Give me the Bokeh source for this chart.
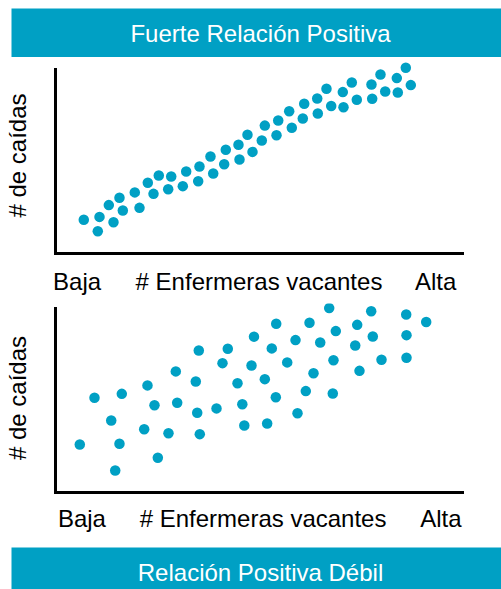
from bokeh.plotting import figure
from bokeh.layouts import column
from bokeh.models import Range1d, FixedTicker, Label
from bokeh.embed import file_html
from bokeh.resources import INLINE

TEAL = "#00A0C4"
FONT = "Liberation Sans"

title_top = "Fuerte Relación Positiva"
title_bottom = "Relación Positiva Débil"
x_label = "# Enfermeras vacantes"
y_label = "# de caídas"
low_label = "Baja"
high_label = "Alta"

# Strong positive relation (x and y on a 0-100 scale)
strong_x = [6.95, 10.39, 10.81, 14.25, 13.10, 15.72, 16.54, 19.48, 20.64, 22.68,
            24.08, 25.38, 27.69, 28.43, 31.28, 32.11, 35.06, 35.38, 38.75, 38.08,
            41.45, 41.84, 45.21, 44.96, 48.40, 47.17, 50.69, 51.43, 54.30, 54.72,
            58.06, 57.42, 60.76, 61.11, 64.45, 64.30, 66.58, 67.74, 70.59, 70.76,
            72.80, 74.03, 77.64, 77.81, 79.85, 81.01, 83.86, 84.10, 86.07, 87.30]
strong_y = [18.3, 12.1, 19.9, 17.0, 26.3, 30.3, 23.4, 33.2, 24.8, 38.4,
            32.4, 42.4, 34.9, 41.8, 36.6, 44.6, 39.3, 47.3, 43.5, 52.7,
            48.5, 56.4, 51.1, 59.1, 55.2, 64.5, 61.4, 69.5, 64.3, 72.3,
            68.3, 77.3, 73.4, 81.4, 76.1, 84.2, 89.5, 80.1, 87.7, 79.5,
            92.9, 83.5, 91.8, 84.1, 97.3, 88.0, 95.3, 87.5, 100.9, 91.5]

# Weak positive relation
weak_x = [5.97, 9.58, 13.69, 14.67, 15.72, 16.29, 21.79, 22.60, 24.32, 25.14,
          27.76, 29.56, 29.90, 34.47, 34.82, 35.21, 35.45, 39.56, 41.03, 42.33,
          44.72, 45.90, 46.39, 48.16, 48.77, 51.43, 53.14, 54.23, 54.13, 52.01,
          56.93, 58.97, 59.46, 61.50, 62.41, 63.39, 65.04, 67.25, 68.13, 68.30,
          68.87, 73.64, 74.13, 74.69, 77.57, 77.96, 80.10, 86.17, 86.24, 86.24,
          91.08]
weak_y = [26.1, 51.5, 39.1, 12.0, 26.5, 53.6, 34.4, 58.2, 47.4, 18.9,
          32.2, 65.8, 48.8, 60.3, 43.3, 77.2, 31.7, 45.7, 70.3, 78.1,
          59.4, 48.0, 36.4, 69.0, 84.7, 61.6, 78.3, 91.7, 51.8, 37.5,
          70.7, 82.8, 43.1, 55.1, 92.2, 64.8, 81.5, 100.2, 53.8, 71.9,
          87.7, 79.9, 91.1, 66.1, 98.5, 84.8, 72.1, 96.7, 85.5, 73.2,
          92.6]

W = 501


def banner(text, height, y_top, y_bottom, frame_top, text_y):
    b = figure(width=W, height=height, output_backend="svg", toolbar_location=None,
               x_range=Range1d(11, 501), y_range=Range1d(y_bottom, frame_top),
               x_axis_type=None, y_axis_type=None, title=None,
               min_border=0, min_border_left=11, min_border_top=frame_top - y_top)
    b.frame_align = False
    b.background_fill_color = TEAL
    b.border_fill_color = "white"
    b.outline_line_color = None
    b.grid.visible = False
    b.add_layout(Label(x=260, y=text_y, text=text, text_align="center",
                       text_baseline="middle", text_color="white",
                       text_font=FONT, text_font_size="24px"))
    return b


def scatter_panel(xs, ys, height, ymax, top_border, bottom_border, ticks, standoff):
    p = figure(width=W, height=height, output_backend="svg", toolbar_location=None,
               x_range=Range1d(0, 100), y_range=Range1d(0, ymax), title=None,
               min_border=0, min_border_left=55, min_border_right=39,
               min_border_top=top_border, min_border_bottom=bottom_border)
    p.frame_align = False
    p.outline_line_color = None
    p.grid.visible = False
    p.background_fill_color = "white"
    p.border_fill_color = "white"
    p.scatter(xs, ys, size=10.5, color=TEAL, line_color=None)

    xa = p.xaxis[0]
    xa.ticker = FixedTicker(ticks=ticks)
    xa.major_label_overrides = {ticks[0]: low_label, ticks[1]: x_label, ticks[2]: high_label}
    xa.major_tick_line_color = None
    xa.minor_tick_line_color = None
    xa.axis_line_width = 3
    xa.axis_line_color = "black"
    xa.axis_line_cap = "square"
    xa.major_label_standoff = standoff
    xa.major_label_text_font = FONT
    xa.major_label_text_font_size = "24px"
    xa.major_label_text_color = "black"

    ya = p.yaxis[0]
    ya.ticker = FixedTicker(ticks=[])
    ya.bounds = (0, 100)
    ya.major_tick_line_color = None
    ya.minor_tick_line_color = None
    ya.axis_line_width = 3
    ya.axis_line_color = "black"
    ya.axis_line_cap = "square"
    ya.axis_label = y_label
    ya.axis_label_standoff = 25
    ya.axis_label_text_font = FONT
    ya.axis_label_text_font_size = "24px"
    ya.axis_label_text_font_style = "normal"
    ya.axis_label_text_color = "black"
    return p


b1 = banner(title_top, 57, 0, 57, 8, 33)
s1 = scatter_panel(strong_x, strong_y, 241, 106.5, 0, 45, [5.3, 50, 93.4], 8)
s2 = scatter_panel(weak_x, weak_y, 249, 102.7, 5, 55, [6.5, 51.0, 94.7], 6)
b2 = banner(title_bottom, 42, 547, 589, 547, 571.5)

layout = column(b1, s1, s2, b2, spacing=0)

with open("out.html", "w") as f:
    f.write(file_html(layout, INLINE))
